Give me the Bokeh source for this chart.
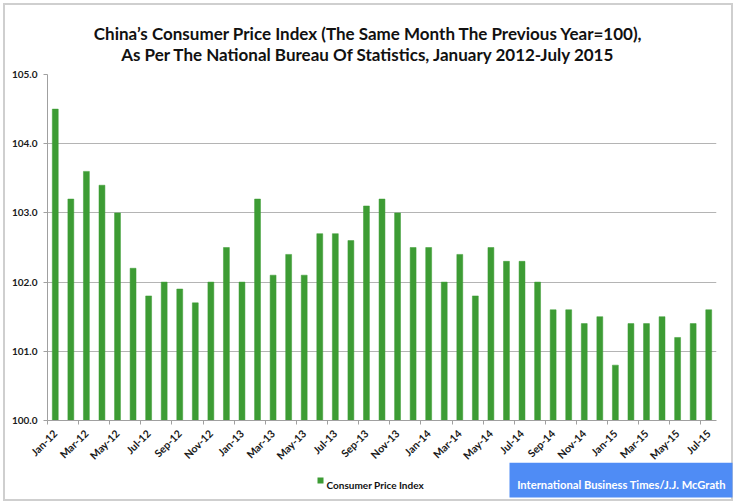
from bokeh.plotting import figure
from bokeh.layouts import column
from bokeh.models import Range1d, FixedTicker, LinearAxis, NumeralTickFormatter
from bokeh.core.properties import value
from bokeh.embed import file_html
from bokeh.resources import INLINE

months = ["Jan-12", "Feb-12", "Mar-12", "Apr-12", "May-12", "Jun-12", "Jul-12", "Aug-12", "Sep-12", "Oct-12", "Nov-12", "Dec-12",
          "Jan-13", "Feb-13", "Mar-13", "Apr-13", "May-13", "Jun-13", "Jul-13", "Aug-13", "Sep-13", "Oct-13", "Nov-13", "Dec-13",
          "Jan-14", "Feb-14", "Mar-14", "Apr-14", "May-14", "Jun-14", "Jul-14", "Aug-14", "Sep-14", "Oct-14", "Nov-14", "Dec-14",
          "Jan-15", "Feb-15", "Mar-15", "Apr-15", "May-15", "Jun-15", "Jul-15"]
cpi = [104.5, 103.2, 103.6, 103.4, 103.0, 102.2, 101.8, 102.0, 101.9, 101.7, 102.0, 102.5,
       102.0, 103.2, 102.1, 102.4, 102.1, 102.7, 102.7, 102.6, 103.1, 103.2, 103.0, 102.5,
       102.5, 102.0, 102.4, 101.8, 102.5, 102.3, 102.3, 102.0, 101.6, 101.6, 101.4, 101.5,
       100.8, 101.4, 101.4, 101.5, 101.2, 101.4, 101.6]
y_ticks = [100, 101, 102, 103, 104, 105]
title_lines = ["China\u2019s Consumer Price Index (The Same Month The Previous Year=100),",
               "As Per The National Bureau Of Statistics, January 2012-July 2015"]
series_name = "Consumer Price Index"
credit = "International Business Times/J.J. McGrath"

FONT = "Lato"
GREEN = "#3d9c34"
BLUE = "#4f8cf5"
W = 736


def strip(height, y0):
    f = figure(width=W, height=height, output_backend="svg", toolbar_location=None, title=None,
               x_range=Range1d(0, W), y_range=Range1d(y0 + height, y0),
               min_border=0, x_axis_type=None, y_axis_type=None, frame_align=False)
    f.grid.visible = False
    f.outline_line_color = None
    f.background_fill_alpha = 0
    f.border_fill_alpha = 0
    return f


# ---- title strip (page y 0..66)
top = strip(66, 0)
top.text(x=[W / 2, W / 2], y=[33, 54], text=title_lines, text_align="center",
         text_baseline="alphabetic", text_font=value(FONT), text_font_style="bold",
         text_font_size="17px", text_color="#111111")

# ---- main chart (page y 66..469)
idx = list(range(len(months)))
p = figure(width=W, height=403, output_backend="svg", toolbar_location=None, title=None,
           x_range=Range1d(-0.5, len(months) - 0.5), y_range=Range1d(100, 105),
           min_border_left=47, min_border_right=20, min_border_top=8, min_border_bottom=49,
           x_axis_type=None, frame_align=False)
p.outline_line_color = None
p.border_fill_alpha = 0
p.background_fill_color = "white"
p.vbar(x=idx, top=cpi, bottom=100, width=0.38, fill_color=GREEN, line_color=GREEN, line_width=0.5)

p.yaxis.ticker = FixedTicker(ticks=y_ticks)
p.yaxis.formatter = NumeralTickFormatter(format="0.0")
p.yaxis.major_label_text_font = FONT
p.yaxis.major_label_text_font_style = "bold"
p.yaxis.major_label_text_font_size = "10px"
p.yaxis.major_label_text_color = "#1a1a1a"
p.yaxis.axis_line_color = "#a0a0a0"
p.yaxis.major_tick_line_color = "#a0a0a0"
p.yaxis.major_tick_out = 4
p.yaxis.major_tick_in = 0
p.yaxis.minor_tick_line_color = None
p.yaxis.major_label_standoff = 6
p.ygrid.grid_line_color = "#b4b4b4"
p.xgrid.grid_line_color = None

# category boundary ticks (no labels)
boundary_ticks = [i - 0.5 for i in idx[::2]]
ax_ticks = LinearAxis(ticker=FixedTicker(ticks=boundary_ticks),
                      major_label_overrides={t: "" for t in boundary_ticks},
                      major_label_text_font_size="0px", major_label_standoff=0,
                      axis_line_color="#a0a0a0", major_tick_line_color="#a0a0a0",
                      major_tick_out=4, major_tick_in=0, minor_tick_line_color=None)
p.add_layout(ax_ticks, "below")
# month labels at bar centres
ax_labels = LinearAxis(ticker=FixedTicker(ticks=idx[::2]),
                       major_label_overrides={i: months[i] for i in idx[::2]},
                       major_label_orientation=0.785398,
                       major_label_text_font=FONT, major_label_text_font_style="bold",
                       major_label_text_font_size="10.5px", major_label_text_color="#1a1a1a",
                       major_label_standoff=1,
                       axis_line_color=None, major_tick_line_color=None, minor_tick_line_color=None)
p.add_layout(ax_labels, "below")

# ---- legend / credit strip (page y 462..504, overlapping the main figure's bottom border)
bot = strip(42, 462)
bot.margin = (-7, 0, 0, 0)
bot.quad(left=[317], right=[323], top=[477], bottom=[483], fill_color=GREEN, line_color=None)
bot.text(x=[326], y=[484], text=[series_name], text_baseline="alphabetic",
         text_font=value(FONT), text_font_style="bold", text_font_size="10px", text_color="#111111")
bot.quad(left=[509], right=[732], top=[462], bottom=[497], fill_color=BLUE, line_color=None)
bot.text(x=[621], y=[484], text=[credit], text_align="center", text_baseline="alphabetic",
         text_font=value(FONT), text_font_style="bold", text_font_size="11.2px", text_color="white")

layout = column(top, p, bot, spacing=0,
                styles={"background": "white",
                        "box-shadow": "inset 0 0 0 3px white, inset 0 0 0 5px #cfcfcf"})

open("out.html", "w").write(file_html(layout, INLINE))
